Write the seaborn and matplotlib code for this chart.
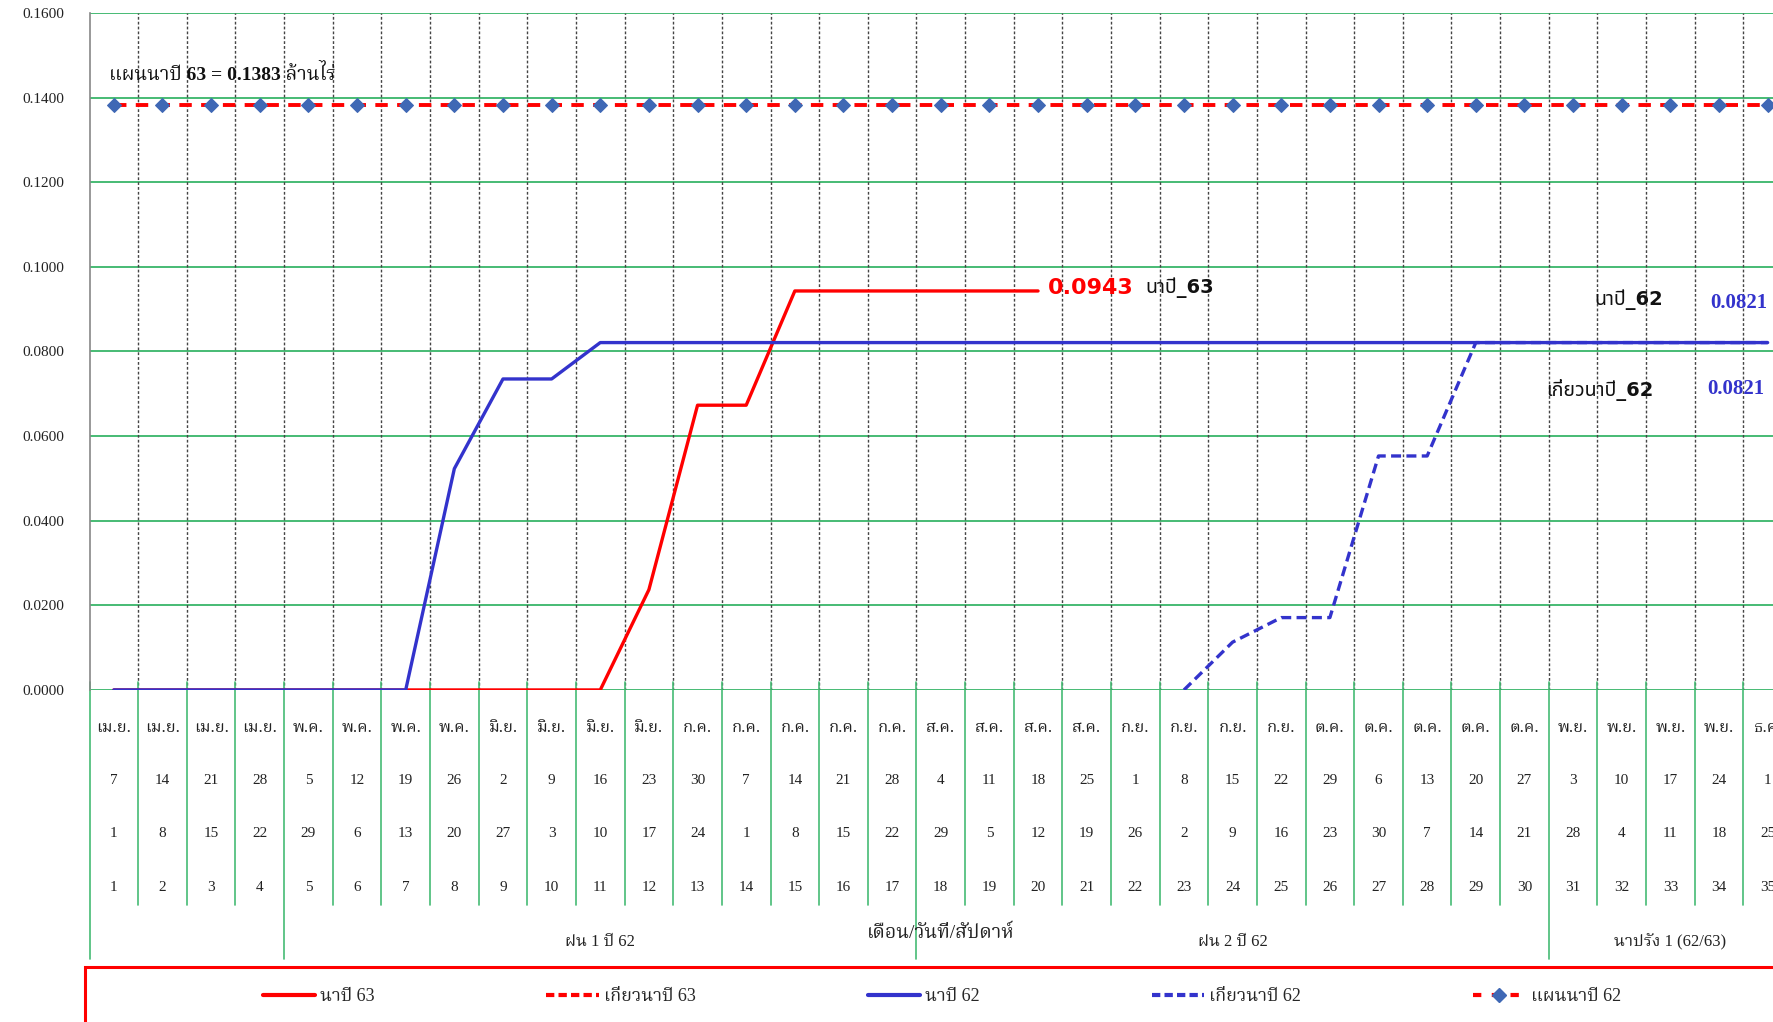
import matplotlib
matplotlib.use("Agg")
import matplotlib.pyplot as plt
from matplotlib import font_manager as fm
from matplotlib.ft2font import FT2Font
from matplotlib.lines import Line2D
from matplotlib.patches import Rectangle
import seaborn as sns

# ---- data ----
weeks = list(range(1, 36))
months = ["เม.ย.", "เม.ย.", "เม.ย.", "เม.ย.", "พ.ค.", "พ.ค.", "พ.ค.", "พ.ค.",
          "มิ.ย.", "มิ.ย.", "มิ.ย.", "มิ.ย.", "ก.ค.", "ก.ค.", "ก.ค.", "ก.ค.", "ก.ค.",
          "ส.ค.", "ส.ค.", "ส.ค.", "ส.ค.", "ก.ย.", "ก.ย.", "ก.ย.", "ก.ย.",
          "ต.ค.", "ต.ค.", "ต.ค.", "ต.ค.", "ต.ค.", "พ.ย.", "พ.ย.", "พ.ย.", "พ.ย.", "ธ.ค."]
end_days = [7, 14, 21, 28, 5, 12, 19, 26, 2, 9, 16, 23, 30, 7, 14, 21, 28, 4,
            11, 18, 25, 1, 8, 15, 22, 29, 6, 13, 20, 27, 3, 10, 17, 24, 1]
start_days = [1, 8, 15, 22, 29, 6, 13, 20, 27, 3, 10, 17, 24, 1, 8, 15, 22, 29,
              5, 12, 19, 26, 2, 9, 16, 23, 30, 7, 14, 21, 28, 4, 11, 18, 25]

# นาปี 63, weeks 1-20
na63_weeks = weeks[:20]
na63 = [0.0, 0.0, 0.0, 0.0, 0.0, 0.0, 0.0, 0.0, 0.0, 0.0, 0.0,
        0.0237, 0.0673, 0.0673, 0.0943, 0.0943, 0.0943, 0.0943, 0.0943, 0.0943]
# นาปี 62, weeks 1-35
na62 = [0.0, 0.0, 0.0, 0.0, 0.0, 0.0, 0.0, 0.0523, 0.0735, 0.0735,
        0.0821, 0.0821, 0.0821, 0.0821, 0.0821, 0.0821, 0.0821, 0.0821, 0.0821, 0.0821,
        0.0821, 0.0821, 0.0821, 0.0821, 0.0821, 0.0821, 0.0821, 0.0821, 0.0821, 0.0821,
        0.0821, 0.0821, 0.0821, 0.0821, 0.0821]
# เกี่ยวนาปี 62, weeks 23-35
harvest62_weeks = weeks[22:]
harvest62 = [0.0, 0.0113, 0.0171, 0.0171, 0.0553, 0.0553, 0.0821,
             0.0821, 0.0821, 0.0821, 0.0821, 0.0821, 0.0821]
# แผนนาปี 62
plan62 = [0.1383, 0.1383, 0.1383, 0.1383, 0.1383, 0.1383, 0.1383, 0.1383, 0.1383, 0.1383,
          0.1383, 0.1383, 0.1383, 0.1383, 0.1383, 0.1383, 0.1383, 0.1383, 0.1383, 0.1383,
          0.1383, 0.1383, 0.1383, 0.1383, 0.1383, 0.1383, 0.1383, 0.1383, 0.1383, 0.1383,
          0.1383, 0.1383, 0.1383, 0.1383, 0.1383]

y_ticks = [0.0, 0.02, 0.04, 0.06, 0.08, 0.10, 0.12, 0.14, 0.16]
seasons = ["ฝน 1 ปี 62", "ฝน 2 ปี 62", "นาปรัง 1 (62/63)"]
season_bounds = [4.5, 17.5, 30.5, 35.5]
legend_labels = ["นาปี 63", "เกี่ยวนาปี 63", "นาปี 62", "เกี่ยวนาปี 62", "แผนนาปี 62"]

RED = "#FF0000"
BLUE = "#3333CC"
DIAMOND = "#3F68B5"
GREEN = "#46BB74"


def find_thai_fonts():
    names = []
    for f in fm.fontManager.ttflist:
        try:
            cmap = FT2Font(f.fname).get_charmap()
        except Exception:
            continue
        if 0x0E19 in cmap and f.name not in names:
            names.append(f.name)
    return names


def pick(found, prefs):
    for p in prefs:
        if p in found:
            return p
    return found[0] if found else "DejaVu Sans"


sns.set_theme(style="white")
thai = find_thai_fonts()
thai_serif = pick(thai, ["Noto Serif Thai", "Norasi", "Laksaman", "TlwgTypo", "Noto Sans Thai"])
thai_sans = pick(thai, ["Noto Sans Thai", "Tahoma", "Loma", "Garuda", "Waree", "Noto Sans Thai Looped"])
SERIF = ["Liberation Serif", thai_serif, "DejaVu Sans"]
SANS = ["DejaVu Sans", thai_sans]
plt.rcParams["font.family"] = SERIF

fig = plt.figure(figsize=(17.73, 10.22), dpi=100)
ax = fig.add_axes([0.0505, 0.3249, 0.9602, 0.6624])

# vertical dashed separators inside the plot
ax.vlines([w + 0.5 for w in weeks[:-1]], 0, 0.16, colors="#444444",
          linestyles=(0, (2, 1.5)), linewidth=1.0, zorder=1)

sns.lineplot(x=na63_weeks, y=na63, ax=ax, color=RED, linewidth=2.4, zorder=3)
sns.lineplot(x=weeks, y=na62, ax=ax, color=BLUE, linewidth=2.4, zorder=4)
sns.lineplot(x=harvest62_weeks, y=harvest62, ax=ax, color=BLUE, linewidth=2.4,
             dashes=False, linestyle=(0, (3, 1.6)), zorder=5)
sns.lineplot(x=weeks, y=plan62, ax=ax, color=RED, linewidth=2.8,
             linestyle=(0, (3.2, 2.4)), marker="D", markersize=7,
             markerfacecolor=DIAMOND, markeredgecolor=DIAMOND, zorder=6)

ax.set_xlim(0.5, 35.5)
ax.set_ylim(0, 0.16)
ax.set_yticks(y_ticks)
ax.set_yticklabels([f"{v:.4f}" for v in y_ticks], fontsize=11, color="#222222")
ax.yaxis.grid(True, color=GREEN, linewidth=1.4)
ax.xaxis.grid(False)
ax.set_axisbelow(True)
ax.set_xticks(weeks)
ax.set_xticklabels([])
ax.tick_params(axis="x", colors=GREEN, length=5, width=1.2, direction="out")
ax.tick_params(axis="y", colors="#888888", length=7, width=1, pad=11, labelcolor="#222222")
for s in ["top", "right", "bottom"]:
    ax.spines[s].set_visible(False)
ax.spines["left"].set_color("#888888")
ax.spines["left"].set_linewidth(1.2)
ax.set_xlabel("")
ax.set_ylabel("")

# annotations
ax.text(0.89, 0.1455, "แผนนาปี 63 = 0.1383 ล้านไร่", fontsize=14, fontweight="bold",
        ha="left", va="center", color="#111111")
ax.text(20.2, 0.0950, "0.0943", family=SANS, fontsize=16, fontweight="bold",
        color=RED, ha="left", va="center")
ax.text(22.2, 0.0950, "นาปี_63", family=SANS, fontsize=14, fontweight="bold",
        color="#111111", ha="left", va="center")
ax.text(32.14, 0.0923, "นาปี_62", family=SANS, fontsize=14, fontweight="bold",
        color="#111111", ha="center", va="center")
ax.text(33.83, 0.0915, "0.0821", fontsize=15, fontweight="bold", color=BLUE,
        ha="left", va="center")
ax.text(31.55, 0.0709, "เกี่ยวนาปี_62", family=SANS, fontsize=14, fontweight="bold",
        color="#111111", ha="center", va="center")
ax.text(33.76, 0.0712, "0.0821", fontsize=15, fontweight="bold", color=BLUE,
        ha="left", va="center")

# table of months / dates / weeks under the axis
trans = ax.get_xaxis_transform()
rows_y = [-0.056, -0.1344, -0.2127, -0.2925]
for w, m, de, ds in zip(weeks, months, end_days, start_days):
    for i, (ry, txt) in enumerate(zip(rows_y, [m, str(de), str(ds), str(w)])):
        ax.text(w, ry, txt, transform=trans, ha="center", va="center",
                fontsize=12 if i == 0 else 11, color="#222222", clip_on=False)

for b in [0.5] + [w + 0.5 for w in weeks]:
    bottom = -0.3973 if b in [0.5] + season_bounds else -0.3176
    ax.plot([b, b], [0.012, bottom], transform=trans, color=GREEN,
            linewidth=1.2, clip_on=False, zorder=1)

for (lo, hi), name in zip(zip(season_bounds[:-1], season_bounds[1:]), seasons):
    ax.text((lo + hi) / 2, -0.3722, name, transform=trans, ha="center", va="center",
            fontsize=12, color="#222222", clip_on=False)
ax.text(18, -0.359, "เดือน/วันที่/สัปดาห์", transform=trans, ha="center", va="center",
        fontsize=14, color="#222222", clip_on=False)

# legend box with red border
fig.patches.append(Rectangle((0.048, -0.05), 1.0, 0.1038, transform=fig.transFigure,
                             facecolor="none", edgecolor=RED, linewidth=2.2))
handles = [
    Line2D([], [], color=RED, linewidth=3),
    Line2D([], [], color=RED, linewidth=3, linestyle=(0, (2, 1))),
    Line2D([], [], color=BLUE, linewidth=3),
    Line2D([], [], color=BLUE, linewidth=3, linestyle=(0, (2, 1))),
    Line2D([], [], color=RED, linewidth=3, linestyle=(0, (2, 2.5)), marker="D",
           markersize=7, markerfacecolor=DIAMOND, markeredgecolor=DIAMOND),
]
fig.legend(handles, legend_labels, loc="center left", bbox_to_anchor=(0.143, 0.0245),
           ncol=5, frameon=False, fontsize=13, handlelength=2.9, handletextpad=0.3,
           columnspacing=9.5, borderpad=0, numpoints=1)

fig.savefig("out.png", dpi=100)
